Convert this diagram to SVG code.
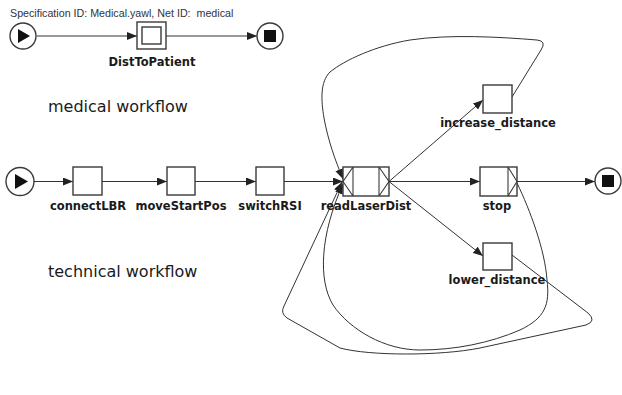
<svg xmlns="http://www.w3.org/2000/svg" width="622" height="395" viewBox="0 0 622 395">
  <style>
    .task { fill: #fff; stroke: #3a3a3a; stroke-width: 1.4; }
    .deco { fill: none; stroke: #3a3a3a; stroke-width: 1.1; }
    .cond { fill: #fff; stroke: #3a3a3a; stroke-width: 1.4; }
    .mark { fill: #111; }
    .edge { fill: none; stroke: #333; stroke-width: 1; marker-end: url(#arrow); }
    .lbl { font-family: "DejaVu Sans", Verdana, sans-serif; font-size: 11.5px; font-weight: bold; fill: #1a1a1a; text-anchor: middle; }
    .note { font-family: "DejaVu Sans", Verdana, sans-serif; font-size: 16px; fill: #1a1a1a; }
    .spec { font-family: "Liberation Sans", Arial, sans-serif; font-size: 10.7px; fill: #333; }
  </style>
  <defs>
    <marker id="arrow" markerUnits="userSpaceOnUse" markerWidth="10" markerHeight="8" refX="10" refY="4" orient="auto">
      <path d="M0,0 L10,4 L0,8 z" fill="#222"/>
    </marker>
  </defs>

  <rect width="622" height="395" fill="#fff"/>

  <text class="spec" x="10" y="17" xml:space="preserve">Specification ID: Medical.yawl, Net ID:  medical</text>
  <text class="note" x="48" y="112">medical workflow</text>
  <text class="note" x="48" y="277">technical workflow</text>

  <!-- connectors -->
  <g id="connectors">
    <path class="edge" d="M37,36 L137,36"/>
    <path class="edge" d="M166,36 L257,36"/>
    <path class="edge" d="M34,181.5 L73,181.5"/>
    <path class="edge" d="M102,181.5 L167,181.5"/>
    <path class="edge" d="M195,181.5 L256,181.5"/>
    <path class="edge" d="M284,181.5 L343,181.5"/>
    <path class="edge" d="M389,181.5 L483,100"/>
    <path class="edge" d="M389,181.5 L480,181.5"/>
    <path class="edge" d="M389,181.5 L483,256"/>
    <path class="edge" d="M517,181.5 L595,181.5"/>
    <!-- loop back from increase_distance -->
    <path class="edge" d="M512,97 L541,50 Q547,41 537,40 C500,37 450,34 410,40 C375,46 345,60 330,72 C320,82 321,100 324,118 C328,140 335,160 343,179"/>
    <!-- loop back from lower_distance -->
    <path class="edge" d="M512,255 L588,313 Q597,321 586,325 L480,348 C440,356 370,356 340,348 L287,318 Q280,313 284,306 L342,182"/>
    <!-- loop back from stop -->
    <path class="edge" d="M517,183 C530,210 545,250 547,280 C550,305 545,318 520,330 C490,343 455,350 420,350 C385,350 350,330 333,305 C318,280 320,235 343,184"/>
  </g>

  <!-- medical net -->
  <g id="med-start">
    <circle class="cond" cx="23" cy="36" r="13"/>
    <path class="mark" d="M18,29 L30,36 L18,43 z"/>
  </g>
  <g id="DistToPatient">
    <rect class="task" x="137" y="22" width="29" height="27"/>
    <rect class="task" x="142" y="27" width="19" height="17"/>
    <text class="lbl" x="152" y="66">DistToPatient</text>
  </g>
  <g id="med-end">
    <circle class="cond" cx="270" cy="36" r="13"/>
    <rect class="mark" x="264" y="30" width="12" height="12"/>
  </g>

  <!-- technical net -->
  <g id="tech-start">
    <circle class="cond" cx="20" cy="181.5" r="14"/>
    <path class="mark" d="M15,174 L28,181.5 L15,189 z"/>
  </g>
  <g id="connectLBR">
    <rect class="task" x="73" y="167" width="29" height="28"/>
    <text class="lbl" x="88" y="210">connectLBR</text>
  </g>
  <g id="moveStartPos">
    <rect class="task" x="167" y="167" width="28" height="28"/>
    <text class="lbl" x="181" y="210">moveStartPos</text>
  </g>
  <g id="switchRSI">
    <rect class="task" x="256" y="167" width="28" height="28"/>
    <text class="lbl" x="270" y="210">switchRSI</text>
  </g>
  <g id="readLaserDist">
    <rect class="task" x="343" y="167" width="46" height="29"/>
    <path class="deco" d="M353,167 L353,196 M353,167 L343,181.5 L353,196 M379,167 L379,196 M379,167 L389,181.5 L379,196"/>
    <text class="lbl" x="366" y="210">readLaserDist</text>
  </g>
  <g id="increase_distance">
    <rect class="task" x="483" y="85" width="29" height="28"/>
    <text class="lbl" x="498" y="127">increase_distance</text>
  </g>
  <g id="stop">
    <rect class="task" x="480" y="167" width="37" height="29"/>
    <path class="deco" d="M508,167 L508,196 M508,167 L517,181.5 L508,196"/>
    <text class="lbl" x="497" y="210">stop</text>
  </g>
  <g id="lower_distance">
    <rect class="task" x="483" y="243" width="29" height="27"/>
    <text class="lbl" x="497" y="284">lower_distance</text>
  </g>
  <g id="tech-end">
    <circle class="cond" cx="608" cy="181" r="13"/>
    <rect class="mark" x="602" y="175" width="12" height="12"/>
  </g>
</svg>
